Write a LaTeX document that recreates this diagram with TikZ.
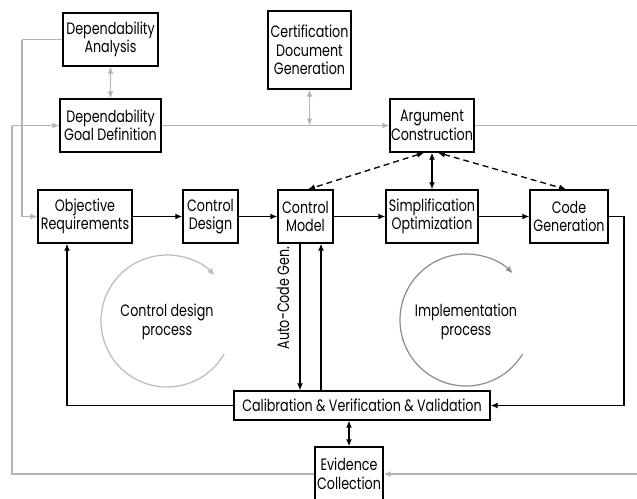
\documentclass[tikz,border=0pt]{standalone}
\usepackage{fontspec}
\setmainfont[FakeStretch=0.77]{Poppins}
\usetikzlibrary{arrows.meta}
\definecolor{linegray}{HTML}{B4B4B4}
\definecolor{cyclelight}{HTML}{BBBBBB}
\definecolor{cycledark}{HTML}{8C8C8C}
\tikzset{
  blk/.style={draw, line width=1.4pt, align=center, inner sep=0pt,
    font=\fontsize{16.5}{18.5}\selectfont},
  flow/.style={line width=1.3pt, -{Latex[length=7pt,width=6pt]}},
  flowboth/.style={line width=1.3pt, {Latex[length=7pt,width=6pt]}-{Latex[length=7pt,width=6pt]}},
  dashflow/.style={flowboth, dash pattern=on 6pt off 4pt},
  grayline/.style={line width=1.2pt, draw=linegray},
  grayflow/.style={grayline, -{Latex[length=7pt,width=6pt]}},
  grayboth/.style={grayline, {Latex[length=7pt,width=6pt]}-{Latex[length=7pt,width=6pt]}},
  cycle/.style={line width=1.2pt, -{Latex[length=7pt,width=6pt]}},
  lbl/.style={font=\fontsize{16.5}{18.5}\selectfont, align=center, inner sep=0pt}
}
\begin{document}
\begin{tikzpicture}[x=1pt,y=-1pt]
\useasboundingbox (0,0) rectangle (637,498);

% blocks of the process
\node[blk, minimum width=95pt, minimum height=53pt] (DA) at (110.5,39.5) {Dependability\\Analysis};
\node[blk, minimum width=101pt, minimum height=53pt] (DG) at (110.5,125.5) {Dependability\\Goal Definition};
\node[blk, minimum width=83pt, minimum height=78pt] (CDG) at (309.5,50) {Certification\\Document\\Generation};
\node[blk, minimum width=84pt, minimum height=53pt] (AC) at (432,125.5) {Argument\\Construction};
\node[blk, minimum width=94pt, minimum height=53pt] (OR) at (85,216.5) {Objective\\Requirements};
\node[blk, minimum width=55pt, minimum height=53pt] (CD) at (210.5,216.5) {Control\\Design};
\node[blk, minimum width=55pt, minimum height=53pt] (CM) at (305.5,216.5) {Control\\Model};
\node[blk, minimum width=92pt, minimum height=53pt] (SO) at (432,216.5) {Simplification\\Optimization};
\node[blk, minimum width=78pt, minimum height=53pt] (CG) at (569,216.5) {Code\\Generation};
\node[blk, minimum width=256pt, minimum height=29pt] (CVV) at (362,405.5) {Calibration \& Verification \& Validation};
\node[blk, minimum width=68pt, minimum height=54pt] (EC) at (349,474) {Evidence\\Collection};

% helper points for the outer gray loops
\coordinate (l1) at (22,39.5);
\coordinate (l2) at (12,125.5);
\coordinate (r1) at (637,125.5);
\coordinate (r2) at (637,474);
\coordinate (r3) at (624,300);

% dependability / certification track (gray)
\draw[grayline] (DA.west) -- (l1);
\draw[grayflow] (l1) |- (OR.west);
\draw[grayboth] (DA.south) -- (DG.north);
\draw[grayline] (EC.west) -| (l2);
\draw[grayflow] (l2) -- (DG.west);
\draw[grayflow] (DG.east) -- (AC.west);
\draw[grayline] (AC.east) -- (r1);
\draw[grayboth] (CDG.south) -- (CDG.south |- DG.east);
\draw[grayflow] (r2) -- (EC.east);

% main development flow
\draw[flow] (OR.east) -- (CD.west);
\draw[flow] (CD.east) -- (CM.west);
\draw[flow] (CM.east) -- (SO.west);
\draw[flow] (SO.east) -- (CG.west);
\draw[line width=1.3pt] (CG.east) -| (r3);
\draw[flow] (r3) |- (CVV.east);
\draw[flow] (CVV.west) -| ([xshift=-18pt]OR.south);
\draw[flow] ([xshift=-5.5pt]CM.south) -- ([xshift=-62pt]CVV.north);
\draw[flow] ([xshift=-41pt]CVV.north) -- ([xshift=15.5pt]CM.south);
\node[lbl, rotate=90] (acg) at (283,298) {Auto-Code Gen.};
\draw[flowboth] (AC.south) -- (SO.north);
\draw[dashflow] ([xshift=-8pt]AC.south) -- ([xshift=2.5pt]CM.north);
\draw[dashflow] ([xshift=6pt]AC.south) -- ([xshift=-3pt]CG.north);
\draw[flowboth] (EC.north) -- (EC.north |- CVV.south);

% process cycles
\draw[cycle, draw=cyclelight] (167,321) ++(30:66) arc[start angle=30, end angle=316, radius=66];
\node[lbl] (cdp) at (167,322) {Control design\\process};
\draw[cycle, draw=cycledark] (466,320) ++(31:66) arc[start angle=31, end angle=315, radius=66];
\node[lbl] (imp) at (466,322) {Implementation\\process};
\end{tikzpicture}
\end{document}
